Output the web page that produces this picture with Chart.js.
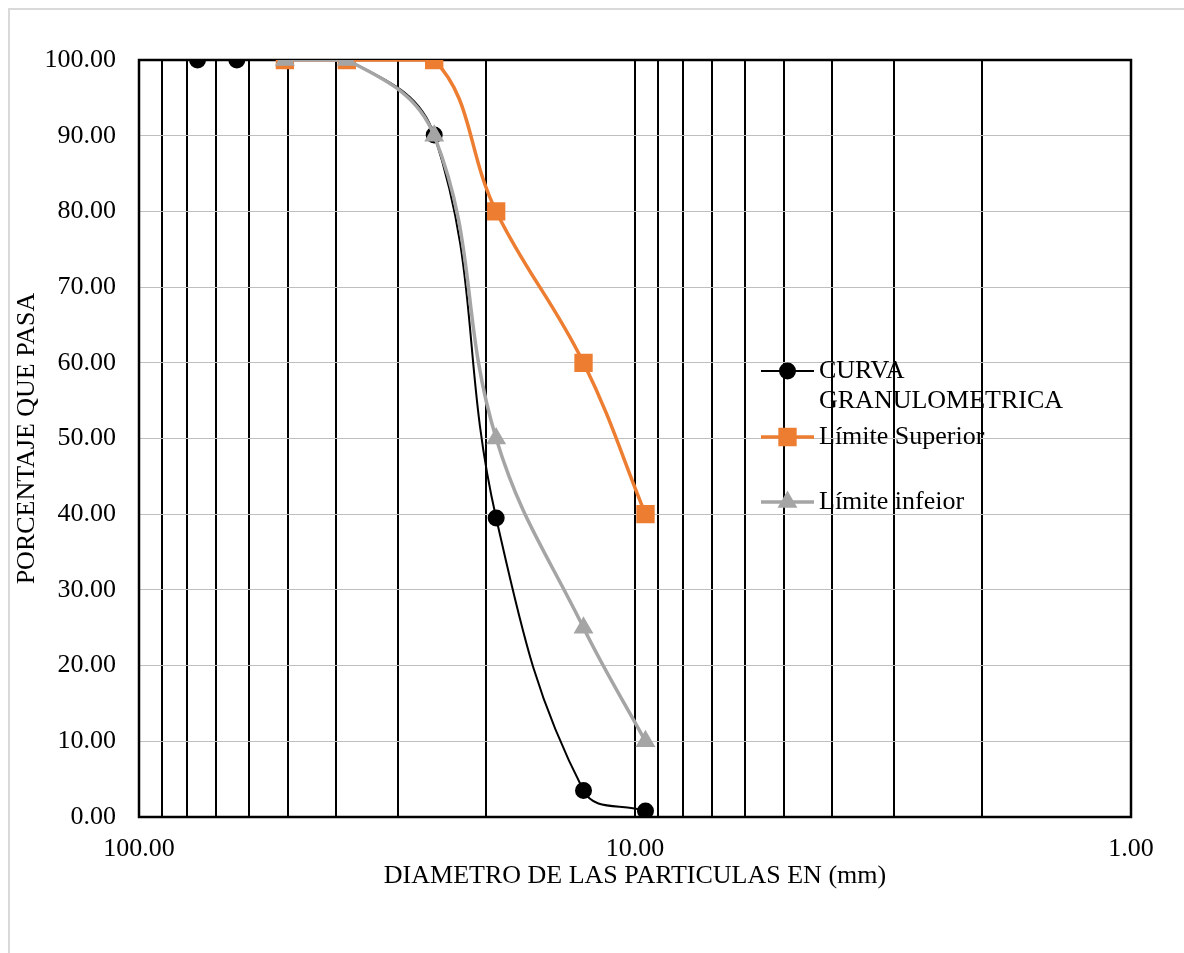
<!DOCTYPE html>
<html>
<head>
<meta charset="utf-8">
<title>Curva granulometrica</title>
<script src="https://cdn.jsdelivr.net/npm/chart.js@4.4.0/dist/chart.umd.min.js"></script>
<style>
html, body { margin: 0; padding: 0; background: #fff; overflow: hidden; }
</style>
</head>
<body>
<canvas id="myChart" width="1184" height="953"></canvas>
<script>
// tamices (mm) y porcentaje que pasa
var diametros = [76.2, 63.5, 50.8, 38.1, 25.4, 19.05, 12.7, 9.525];
var curvaGranulometrica = [100, 100, 100, 100, 90.1, 39.5, 3.5, 0.8];

var diametrosLimites = [50.8, 38.1, 25.4, 19.05, 12.7, 9.525];
var limiteSuperior = [100, 100, 100, 80, 60, 40];
var limiteInferior = [100, 100, 90, 50, 25, 10];

var xGrid = [1, 2, 3, 4, 5, 6, 7, 8, 9, 10, 20, 30, 40, 50, 60, 70, 80, 90, 100];
var xLabels = [100, 10, 1];

var legendNames = [['CURVA', 'GRANULOMETRICA'], ['Límite Superior'], ['Límite infeior']];

var fontFamily = "'Liberation Serif', 'Times New Roman', serif";

function toPoints(xs, ys){
	var out = [];
	for (var i = 0; i < xs.length; i++) {
		out.push({x: xs[i], y: ys[i]});
	}
	return out;
}

var chartBorder = {
	id: 'chartBorder',
	beforeDraw: function(chart){
		var ctx = chart.ctx;
		ctx.save();
		ctx.fillStyle = '#fff';
		ctx.fillRect(0, 0, chart.width, chart.height);
		ctx.strokeStyle = '#d9d9d9';
		ctx.lineWidth = 2;
		ctx.beginPath();
		ctx.moveTo(9, chart.height);
		ctx.lineTo(9, 9);
		ctx.lineTo(chart.width, 9);
		ctx.stroke();
		ctx.restore();
	},
	beforeDatasetsDraw: function(chart){
		var a = chart.chartArea;
		var ctx = chart.ctx;
		ctx.save();
		ctx.strokeStyle = '#000';
		ctx.lineWidth = 2.5;
		ctx.strokeRect(a.left, a.top, a.right - a.left, a.bottom - a.top);
		ctx.restore();
	}
};

// leyenda dentro del area, como en Excel
var sideLegend = {
	id: 'sideLegend',
	afterDraw: function(chart){
		var ctx = chart.ctx;
		var rows = [371, 437, 502];
		var x0 = 761, x1 = 814, tx = 819;
		ctx.save();
		chart.data.datasets.forEach(function(ds, i){
			var y = rows[i];
			ctx.strokeStyle = ds.borderColor;
			ctx.lineWidth = ds.borderWidth;
			ctx.beginPath();
			ctx.moveTo(x0, y);
			ctx.lineTo(x1, y);
			ctx.stroke();
			ctx.fillStyle = ds.pointBackgroundColor;
			ctx.strokeStyle = ds.pointBorderColor;
			Chart.helpers.drawPoint(ctx, {
				pointStyle: ds.pointStyle,
				radius: ds.pointRadius,
				rotation: 0,
				borderWidth: 1
			}, (x0 + x1) / 2, y);
			ctx.fillStyle = '#000';
			ctx.font = '26px ' + fontFamily;
			ctx.textAlign = 'left';
			ctx.textBaseline = 'middle';
			legendNames[i].forEach(function(t, j){
				ctx.fillText(t, tx, y + j * 30);
			});
		});
		ctx.restore();
	}
};

const ctx = document.getElementById('myChart');

new Chart(ctx, {
	type: 'line',
	data: {
		datasets: [{
			label: 'CURVA GRANULOMETRICA',
			data: toPoints(diametros, curvaGranulometrica),
			borderColor: '#000',
			borderWidth: 2,
			pointStyle: 'circle',
			pointRadius: 7.5,
			pointBackgroundColor: '#000',
			pointBorderColor: '#000',
			tension: 0.4,
			order: 3
		}, {
			label: 'Límite Superior',
			data: toPoints(diametrosLimites, limiteSuperior),
			borderColor: '#ED7D31',
			borderWidth: 3.5,
			pointStyle: 'rect',
			pointRadius: 10.5,
			pointBackgroundColor: '#ED7D31',
			pointBorderColor: '#ED7D31',
			tension: 0.4,
			order: 2
		}, {
			label: 'Límite infeior',
			data: toPoints(diametrosLimites, limiteInferior),
			borderColor: '#A5A5A5',
			borderWidth: 3.5,
			pointStyle: 'triangle',
			pointRadius: 8,
			pointBackgroundColor: '#A5A5A5',
			pointBorderColor: '#A5A5A5',
			tension: 0.4,
			order: 1
		}]
	},
	options: {
		responsive: false,
		animation: false,
		layout: {
			padding: { left: 8, top: 60, right: 53, bottom: 0 }
		},
		plugins: {
			legend: { display: false },
			tooltip: { enabled: false }
		},
		scales: {
			x: {
				type: 'logarithmic',
				reverse: true,
				min: 1,
				max: 100,
				afterBuildTicks: function(scale){
					scale.ticks = xGrid.map(function(v){ return {value: v}; });
				},
				afterFit: function(scale){
					scale.height = 136;
				},
				grid: { color: '#000', lineWidth: 2, drawTicks: false },
				border: { display: false },
				ticks: {
					autoSkip: false,
					maxRotation: 0,
					padding: 17,
					color: '#000',
					font: { family: fontFamily, size: 26 },
					callback: function(value){
						return xLabels.indexOf(value) >= 0 ? value.toFixed(2) : '';
					}
				},
				title: {
					display: true,
					text: 'DIAMETRO DE LAS PARTICULAS EN (mm)',
					color: '#000',
					font: { family: fontFamily, size: 26 },
					padding: { top: 0, bottom: 61 }
				}
			},
			y: {
				min: 0,
				max: 100,
				afterFit: function(scale){
					scale.width = 131;
				},
				grid: { color: '#bfbfbf', lineWidth: 1, drawTicks: false },
				border: { display: false },
				ticks: {
					stepSize: 10,
					padding: 23,
					color: '#000',
					font: { family: fontFamily, size: 26 },
					callback: function(value){
						return value.toFixed(2);
					}
				},
				title: {
					display: true,
					text: 'PORCENTAJE QUE PASA',
					color: '#000',
					font: { family: fontFamily, size: 26 },
					padding: { top: 4, bottom: 0 }
				}
			}
		}
	},
	plugins: [chartBorder, sideLegend]
});
</script>
</body>
</html>
